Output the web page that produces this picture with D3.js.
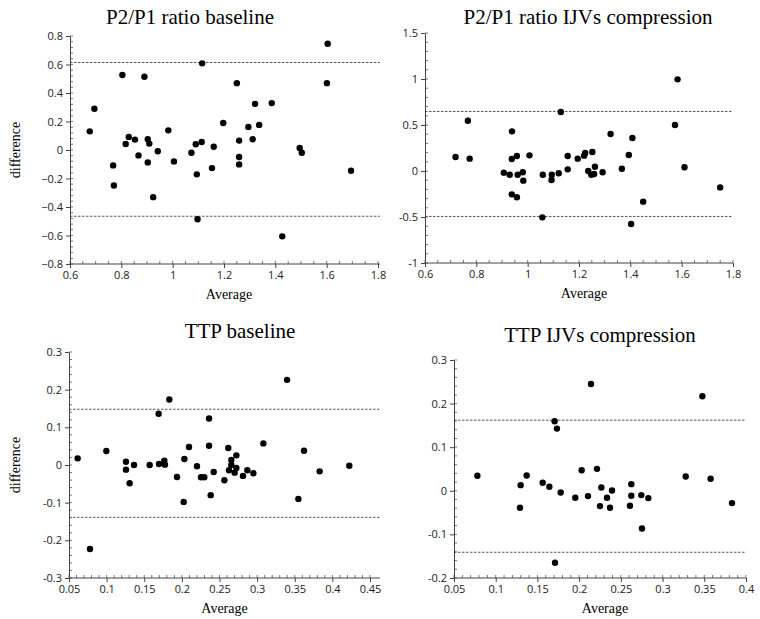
<!DOCTYPE html>
<html><head><meta charset="utf-8">
<script src="https://cdn.jsdelivr.net/npm/d3@7"></script>
<style>body{margin:0;background:#fff}</style>
</head><body>
<script>
// Bland-Altman panels: average vs difference
const titles = ["P2/P1 ratio baseline", "P2/P1 ratio IJVs compression", "TTP baseline", "TTP IJVs compression"];

const p1x = [0.677,0.695,0.768,0.771,0.804,0.817,0.829,0.853,0.867,0.89,0.903,0.903,0.909,0.924,0.942,0.983,1.005,1.073,1.09,1.094,1.097,1.113,1.115,1.153,1.16,1.197,1.25,1.259,1.259,1.259,1.295,1.312,1.321,1.337,1.386,1.427,1.495,1.503,1.601,1.604,1.695];
const p1y = [0.131,0.29,-0.108,-0.249,0.526,0.042,0.092,0.073,-0.038,0.514,0.075,-0.087,0.045,-0.331,-0.009,0.138,-0.08,-0.019,0.04,-0.171,-0.486,0.056,0.608,-0.127,0.023,0.19,0.469,0.066,-0.049,-0.101,0.162,0.075,0.324,0.176,0.329,-0.606,0.014,-0.019,0.469,0.746,-0.146];

const p2x = [0.719,0.767,0.774,0.907,0.93,0.938,0.939,0.938,0.958,0.958,0.961,0.981,0.983,1.007,1.057,1.059,1.094,1.093,1.121,1.129,1.156,1.156,1.195,1.22,1.224,1.236,1.248,1.252,1.259,1.262,1.292,1.323,1.367,1.394,1.403,1.408,1.45,1.574,1.584,1.611,1.75];
const p2y = [0.152,0.547,0.134,-0.018,-0.04,0.13,0.431,-0.254,-0.286,0.163,-0.04,-0.014,-0.105,0.17,-0.504,-0.04,-0.04,-0.098,-0.025,0.641,0.018,0.163,0.134,0.167,0.196,0.0,-0.04,0.207,-0.033,0.047,-0.014,0.402,0.025,0.174,-0.576,0.359,-0.333,0.5,0.996,0.04,-0.178];

const p3x = [0.0615,0.0779,0.0996,0.1257,0.1257,0.1306,0.1364,0.1572,0.1696,0.1691,0.1767,0.1775,0.1833,0.1935,0.2024,0.2033,0.2095,0.2201,0.2254,0.2298,0.2361,0.2361,0.2383,0.2423,0.2565,0.2617,0.2626,0.2657,0.2657,0.2701,0.2724,0.2724,0.2812,0.287,0.295,0.3083,0.3398,0.3548,0.3623,0.3831,0.4225];
const p3y = [0.0177,-0.223,0.037,0.0088,-0.0124,-0.0485,0,0,0.0026,0.136,0.0115,0.0009,0.174,-0.032,-0.098,0.0159,0.0477,-0.0035,-0.0327,-0.0327,0.1236,0.0512,-0.08,-0.0185,-0.0406,0.045,-0.0141,0.0132,0,-0.0203,0.0256,-0.008,-0.029,-0.0141,-0.022,0.0574,0.226,-0.09,0.038,-0.0168,-0.0018];

const p4x = [0.078,0.1299,0.1291,0.1371,0.1563,0.1643,0.1706,0.1734,0.1711,0.1779,0.1954,0.203,0.2106,0.2142,0.2214,0.225,0.2266,0.2334,0.237,0.2394,0.2609,0.2625,0.2625,0.2745,0.2753,0.2829,0.3277,0.3477,0.3576,0.3832];
const p4y = [0.0344,0.013,-0.039,0.0351,0.0183,0.0092,0.1595,0.1427,-0.1649,-0.0038,-0.016,0.0473,-0.0122,0.245,0.0504,-0.0351,0.0076,-0.016,-0.039,0.0008,-0.0344,0.0153,-0.0115,-0.0099,-0.0863,-0.0168,0.0328,0.2168,0.0275,-0.0282];

// limits of agreement (upper, lower)
const limits = [[0.614,-0.465],[0.647,-0.494],[0.148,-0.139],[0.162,-0.141]];

const xTicks = [[0.6,0.8,1,1.2,1.4,1.6,1.8],[0.6,0.8,1,1.2,1.4,1.6,1.8],
  [0.05,0.1,0.15,0.2,0.25,0.3,0.35,0.4,0.45],[0.05,0.1,0.15,0.2,0.25,0.3,0.35,0.4]];
const yTicks = [[-0.8,-0.6,-0.4,-0.2,0,0.2,0.4,0.6,0.8],[-1,-0.5,0,0.5,1,1.5],
  [-0.3,-0.2,-0.1,0,0.1,0.2,0.3],[-0.2,-0.1,0,0.1,0.2,0.3]];

const xs = [p1x,p2x,p3x,p4x], ys = [p1y,p2y,p3y,p4y];

// panel boxes
const boxes = [
  {l:70,r:378,t:36,b:264,lineEnd:380,tx:190,ty:24,yl:true,minus:"\u2212",xm:4,ym:5},
  {l:425,r:733,t:33,b:263,lineEnd:733,tx:588,ty:24,yl:false,minus:"-",xm:4,ym:5},
  {l:69,r:370,t:352,b:578,lineEnd:380,tx:240,ty:338,yl:true,minus:"-",xm:5,ym:5},
  {l:454,r:746,t:360,b:578,lineEnd:746,tx:600,ty:342,yl:false,minus:"-",xm:5,ym:5}
];

const svg = d3.select("body").append("svg").attr("width",760).attr("height",619);

boxes.forEach((b,i) => {
  const xt = xTicks[i], yt = yTicks[i];
  const x = d3.scaleLinear().domain([xt[0], xt[xt.length-1]]).range([b.l,b.r]);
  const y = d3.scaleLinear().domain([yt[0], yt[yt.length-1]]).range([b.b,b.t]);
  const fmt = v => d3.format("~g")(v).replace("\u2212", b.minus);
  const g = svg.append("g");

  // minor ticks
  const xMinor = [], yMinor = [];
  const dx = (xt[1]-xt[0])/b.xm, dy = (yt[1]-yt[0])/b.ym;
  for (let v = xt[0]; v <= xt[xt.length-1]+1e-9; v += dx) xMinor.push(v);
  for (let v = yt[0]; v <= yt[yt.length-1]+1e-9; v += dy) yMinor.push(v);
  g.selectAll(".xm").data(xMinor).join("line")
    .attr("x1",d=>x(d)).attr("x2",d=>x(d)).attr("y1",b.b).attr("y2",b.b-3)
    .attr("stroke","#555").attr("stroke-width",0.8);
  g.selectAll(".ym").data(yMinor).join("line")
    .attr("y1",d=>y(d)).attr("y2",d=>y(d)).attr("x1",b.l).attr("x2",b.l+3)
    .attr("stroke","#555").attr("stroke-width",0.8);

  const xa = g.append("g").attr("transform",`translate(0,${b.b})`)
    .call(d3.axisBottom(x).tickValues(xt).tickFormat(fmt).tickSize(4).tickSizeOuter(0));
  const ya = g.append("g").attr("transform",`translate(${b.l},0)`)
    .call(d3.axisLeft(y).tickValues(yt).tickFormat(fmt).tickSize(4).tickSizeOuter(0));
  [xa,ya].forEach(a => {
    a.select(".domain").attr("stroke","#444");
    a.selectAll(".tick line").attr("stroke","#444");
    a.selectAll("text").attr("font-family","'Open Sans', sans-serif").attr("font-size",11).attr("fill","#222");
  });
  xa.select(".domain").attr("d",`M${b.l},0H${b.lineEnd}`);

  // limits of agreement
  g.selectAll(".lim").data(limits[i]).join("line")
    .attr("x1",b.l).attr("x2",b.lineEnd).attr("y1",d=>y(d)).attr("y2",d=>y(d))
    .attr("stroke","#444").attr("stroke-width",0.9).attr("stroke-dasharray","2.5,1.5");

  g.selectAll("circle").data(xs[i].map((v,k)=>[v, ys[i][k]])).join("circle")
    .attr("cx",d=>x(d[0])).attr("cy",d=>y(d[1])).attr("r",3.2).attr("fill","#000");

  g.append("text").attr("x",b.tx).attr("y",b.ty).attr("text-anchor","middle")
    .attr("font-family","'Liberation Serif', serif").attr("font-size",21).text(titles[i]);
  g.append("text").attr("x",(b.l+b.r)/2+5).attr("y",b.b+35).attr("text-anchor","middle")
    .attr("font-family","'Liberation Serif', serif").attr("font-size",14).text("Average");
  if (b.yl) {
    g.append("text").attr("transform",`translate(20,${(b.t+b.b)/2}) rotate(-90)`)
      .attr("text-anchor","middle").attr("font-family","'Liberation Serif', serif")
      .attr("font-size",14).text("difference");
  }
});
</script>
</body></html>
